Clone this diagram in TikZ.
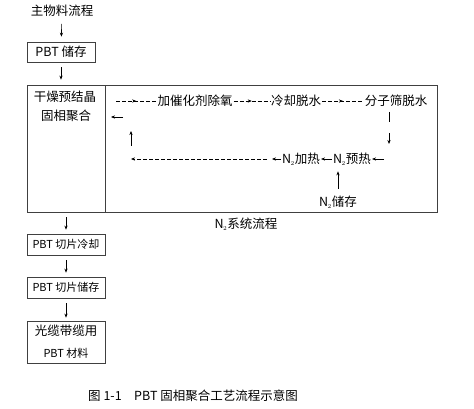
\documentclass[tikz,border=0pt]{standalone}
\usepackage{fontspec}
\newfontfamily\cjk{Noto Sans CJK SC}
\usetikzlibrary{arrows.meta,decorations.markings}

\tikzset{
	txt/.style={font=\cjk\fontsize{12.5}{14}\selectfont, inner sep=1pt},
	small/.style={font=\cjk\fontsize{11}{13}\selectfont, inner sep=1pt},
	box/.style={draw=black!75, line width=0.7pt, rectangle, inner sep=0pt},
	arr/.style={-{Stealth[length=4pt,width=3.2pt]}, line width=0.6pt},
	dasharr/.style={dashed, dash pattern=on 4pt off 2pt, line width=0.6pt,
		postaction={decorate},
		decoration={markings, mark=at position 0.5 with {\arrow{Stealth[length=4pt,width=3.2pt]}}}},
}
\newcommand{\ntwo}{N\kern-0.5pt$_{\scriptscriptstyle 2}$}

\begin{document}
\begin{tikzpicture}[x=1pt,y=-1pt]
	
	\useasboundingbox (0,0) rectangle (474,409);
	
	% main line
	{
		\node[txt] (title) at (62,11) {主物料流程};
		\node[box, txt, minimum width=68, minimum height=20] (pbt) at (61,52) {PBT 储存};
		\node[box, minimum width=410, minimum height=127] (system) at (232,148.5) {};
		\node[box, minimum width=78, minimum height=127] (left) at (66,148.5) {};
		\node[txt] (ganzao) at (65,97) {干燥预结晶};
		\node[txt] (guxiang) at (66,116) {固相聚合};
		\node[box, small, minimum width=78, minimum height=21] (qieleng) at (66,244.5) {PBT 切片冷却};
		\node[box, small, minimum width=78, minimum height=21] (qiechu) at (66,287.5) {PBT 切片储存};
		\node[box, minimum width=78, minimum height=42] (cailiao) at (66,342) {};
		\node[txt] (guanglan) at (66,331) {光缆带缆用};
		\node[small] (pbtcl) at (66,353) {PBT 材料};
	}
	
	\draw[arr, shorten <=6pt, shorten >=5pt] (title) -- (pbt);
	\draw[arr, shorten <=5pt, shorten >=5pt] (pbt) -- (pbt |- system.north);
	\draw[arr, shorten <=5pt, shorten >=4pt] (left) -- (qieleng);
	\draw[arr, shorten <=5pt, shorten >=4pt] (qieleng) -- (qiechu);
	\draw[arr, shorten <=5pt, shorten >=3pt] (qiechu) -- (cailiao);
	
	% N2 loop, top row
	{
		\coordinate (s0) at (116,101);
		\node[txt] (cuihua) at (195,101) {加催化剂除氧};
		\node[txt] (lengque) at (296,101) {冷却脱水};
		\node[txt] (fenzi) at (396,101) {分子筛脱水};
	}
	\draw[dasharr] (s0) -- (cuihua);
	\draw[dasharr] (cuihua) -- (lengque);
	\draw[dasharr] (lengque) -- (fenzi);
	
	\coordinate (d1) at (389,144);
	\draw[arr, dash pattern=on 10pt off 11pt, shorten <=4pt] (fenzi.south -| d1) -- (d1);
	
	% N2 loop, lower row
	{
		\coordinate (r0) at (384,159);
		\node[txt] (yure) at (352,159) {\ntwo 预热};
		\node[txt] (jiare) at (301,159) {\ntwo 加热};
		\coordinate (j1) at (272,159);
		\coordinate (l0) at (131,159);
		\node[txt] (chucun) at (338,202) {\ntwo 储存};
	}
	\draw[arr] (r0) -- (yure);
	\draw[arr] (yure) -- (jiare);
	\draw[arr] (jiare) -- (j1);
	\draw[arr, dashed, dash pattern=on 4pt off 2pt] ([xshift=-5pt]j1) -- (l0);
	\draw[arr, shorten <=6pt, shorten >=5pt] (chucun) -- (chucun |- yure.south);
	
	\coordinate (u0) at (131,146);
	\coordinate (u1) at (131,131);
	\draw[arr] (u0) -- (u1);
	\coordinate (k0) at (123,117);
	\coordinate (k1) at (111,117);
	\draw[arr] (k0) -- (k1);
	
	\node[txt] (xitong) at (246,224) {\ntwo 系统流程};
	
	\node[txt] (caption) at (193,396) {图 1-1\quad PBT 固相聚合工艺流程示意图};
	
\end{tikzpicture}
\end{document}
